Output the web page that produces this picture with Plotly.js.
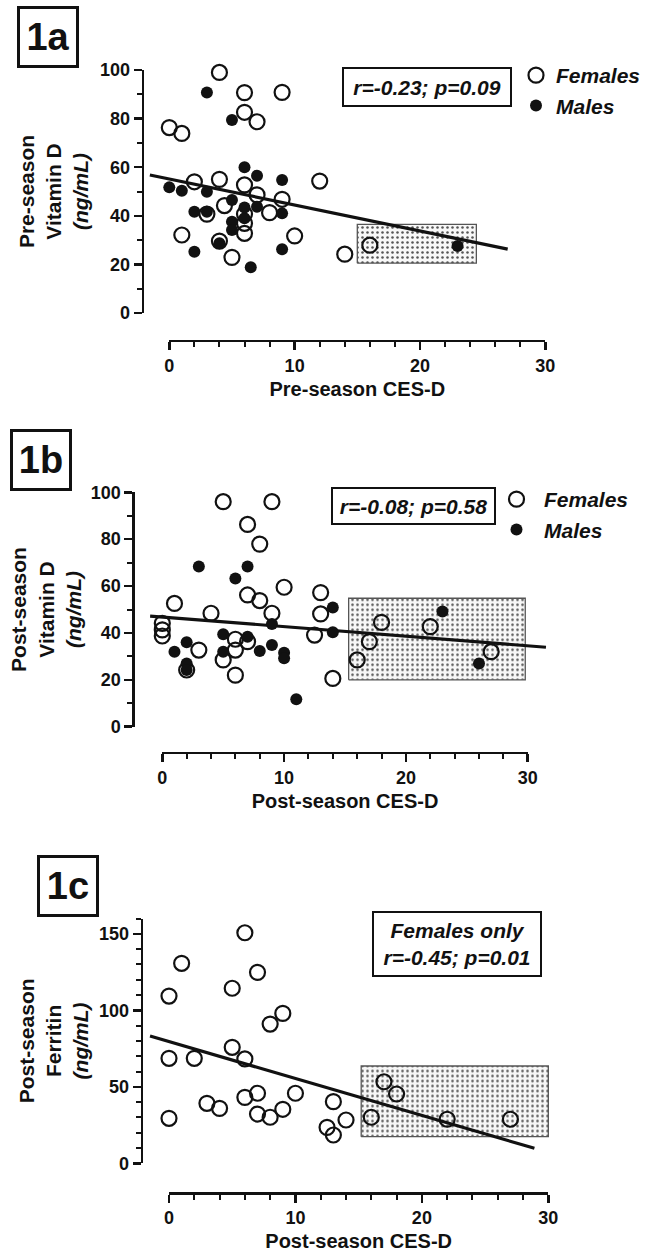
<!DOCTYPE html>
<html><head><meta charset="utf-8">
<script src="https://cdn.plot.ly/plotly-3.0.1.min.js"></script>
<style>html,body{margin:0;padding:0;background:#fff}#chart{width:661px;height:1255px}</style>
</head><body><div id="chart"></div>
<script>
// ---------- Panel 1a data ----------
const femA_x = [4, 6, 9, 6, 7, 0, 1, 12, 2, 4, 6, 7, 9, 4.4, 8, 3, 6, 6, 6, 1, 10, 4, 5, 14, 16];
const femA_y = [99.0, 90.7, 90.8, 82.6, 78.7, 76.3, 73.9, 54.3, 54.0, 55.0, 52.7, 48.6, 46.8, 44.2, 41.3, 40.7, 40.7, 36.9, 32.8, 32.1, 31.7, 29.6, 22.9, 24.2, 27.9];
const maleA_x = [3, 5, 6, 7, 9, 0, 1, 3, 5, 7, 2, 3, 9, 5, 6, 5, 4, 2, 9, 6.5, 23, 6];
const maleA_y = [90.7, 79.4, 60.0, 56.5, 54.7, 51.7, 50.3, 49.9, 46.5, 43.7, 41.7, 41.7, 41.0, 37.6, 39.0, 34.2, 28.7, 25.2, 26.2, 18.8, 27.6, 43.4];
const fitA_x = [-1.55, 27];
const fitA_y = [56.8, 26.3];
const boxA_x = [15, 24.5];
const boxA_y = [20.5, 36.5];
const statA = 'r=-0.23; p=0.09';

// ---------- Panel 1b data ----------
const femB_x = [5, 9, 7, 8, 10, 1, 13, 7, 8, 4, 9, 13, 0, 0, 0, 12.5, 6, 7, 3, 6, 5, 2, 6, 14, 18, 17, 16, 22, 27];
const femB_y = [96, 96, 86.3, 77.9, 59.5, 52.6, 57.2, 56.2, 53.8, 48.4, 48.4, 48.1, 44.1, 41.3, 38.7, 39.1, 37.3, 36.3, 32.7, 32.7, 28.5, 24.2, 22.0, 20.6, 44.5, 36.3, 28.5, 42.7, 32.0];
const maleB_x = [3, 7, 6, 14, 23, 9, 14, 5, 7, 2, 9, 1, 5, 8, 10, 10, 2, 2, 26, 11];
const maleB_y = [68.3, 68.3, 63.2, 50.9, 49.1, 43.8, 40.3, 39.4, 38.4, 36.0, 34.9, 32.0, 32.0, 32.3, 31.6, 29.2, 27.0, 24.2, 27.0, 11.7];
const fitB_x = [-1.0, 31.5];
const fitB_y = [47.2, 33.9];
const boxB_x = [15.3, 29.8];
const boxB_y = [20, 54.8];
const statB = 'r=-0.08; p=0.58';

// ---------- Panel 1c data ----------
const femC_x = [6, 1, 7, 5, 0, 9, 8, 5, 0, 2, 6, 0, 3, 4, 6, 7, 7, 8, 9, 10, 13, 12.5, 13, 14, 16, 17, 18, 22, 27];
const femC_y = [150.7, 130.7, 124.8, 114.4, 109.3, 98.0, 91.0, 75.8, 68.6, 68.6, 68.2, 29.4, 39.2, 35.9, 43.1, 45.8, 32.2, 30.1, 35.3, 45.8, 40.3, 23.5, 18.5, 28.3, 30.1, 53.3, 45.3, 28.8, 28.8];
const fitC_x = [-1.5, 28.9];
const fitC_y = [83.2, 9.8];
const boxC_x = [15.2, 30];
const boxC_y = [17.4, 63.6];
const statC = 'Females only<br>r=-0.45; p=0.01';

const panelLabels = ['1a', '1b', '1c'];
const xTitles = ['Pre-season CES-D', 'Post-season CES-D', 'Post-season CES-D'];
const yTitles = ['Pre-season<br>Vitamin D<br><i>(ng/mL)</i>', 'Post-season<br>Vitamin D<br><i>(ng/mL)</i>', 'Post-season<br>Ferritin<br><i>(ng/mL)</i>'];
const legendNames = ['Females', 'Males'];

// ---------- layout geometry (pixels) ----------
const W = 661, H = 1255;
const FONT = 'Liberation Sans, Arial, sans-serif';
const INK = '#111';
function px2x(p) { return p / W; }
function px2y(p) { return 1 - p / H; }

const geo = [
  {x0: 169.3, bx: 12.533, y0: 313,    by: 2.43,  ymax: 100, xLine: 340.7,  yLine: 142.7, ydt: 20, ymin: 10, ystand: 4,
   stat: [426.5, 87, 160, 30], lab: [47.8, 36.7], leg: [516, 55], itemw: 30},
  {x0: 162.3, bx: 12.18,  y0: 726.7,  by: 2.344, ymax: 100, xLine: 752.7,  yLine: 133.3, ydt: 20, ymin: 10, ystand: 2,
   stat: [413.3, 505.8, 155, 28], lab: [40.8, 460], leg: [489, 479], itemw: 45},
  {x0: 169,   bx: 12.644, y0: 1163.3, by: 1.53,  ymax: 160, xLine: 1193.3, yLine: 141.7, ydt: 50, ymin: 10, ystand: 3,
   stat: [457.2, 943.7, 160, 56], lab: [68.2, 886.3], leg: null}
];

const series = [
  {fem: [femA_x, femA_y], male: [maleA_x, maleA_y], fit: [fitA_x, fitA_y], box: [boxA_x, boxA_y], stat: statA, legend: 'legend'},
  {fem: [femB_x, femB_y], male: [maleB_x, maleB_y], fit: [fitB_x, fitB_y], box: [boxB_x, boxB_y], stat: statB, legend: 'legend2'},
  {fem: [femC_x, femC_y], male: null, fit: [fitC_x, fitC_y], box: [boxC_x, boxC_y], stat: statC, legend: null}
];

const data = [];
const layout = {
  width: W, height: H,
  margin: {l: 0, r: 0, t: 0, b: 0},
  paper_bgcolor: '#fff', plot_bgcolor: 'rgba(0,0,0,0)',
  font: {family: FONT, color: INK},
  annotations: [], showlegend: true
};

series.forEach((s, i) => {
  const g = geo[i];
  const dn = 2 * i + 1, vn = 2 * i + 2;
  const dx = dn === 1 ? 'x' : 'x' + dn, dy = dn === 1 ? 'y' : 'y' + dn;
  const vx = 'x' + vn, vy = 'y' + vn;
  const dxa = dn === 1 ? 'xaxis' : 'xaxis' + dn, dya = dn === 1 ? 'yaxis' : 'yaxis' + dn;

  // hidden data subplot, wider than the drawn axes so fit lines are not clipped
  const L = 100, R = 600, T = g.y0 - g.ymax * g.by - 30, B = g.xLine;
  layout[dxa] = {domain: [px2x(L), px2x(R)], range: [(L - g.x0) / g.bx, (R - g.x0) / g.bx], visible: false, anchor: dy, fixedrange: true};
  layout[dya] = {domain: [px2y(B), px2y(T)], range: [(g.y0 - B) / g.by, (g.y0 - T) / g.by], visible: false, anchor: dx, fixedrange: true};

  // visible, detached axes
  const tickCommon = {ticks: 'outside', tickwidth: 2.5, ticklen: 8, tickcolor: INK,
    showline: true, linewidth: 2.5, linecolor: INK, showgrid: false, zeroline: false, fixedrange: true};
  layout['xaxis' + vn] = Object.assign({}, tickCommon, {
    domain: [px2x(g.x0), px2x(g.x0 + 30 * g.bx)], range: [0, 30], anchor: 'free', position: px2y(g.xLine),
    tick0: 0, dtick: 10, minor: {ticks: 'outside', ticklen: 5, tickwidth: 2, tickcolor: INK, dtick: 2},
    tickfont: {family: FONT, size: 18, weight: 'bold', color: INK},
    title: {text: xTitles[i], font: {family: FONT, size: 20, weight: 'bold', color: INK}, standoff: 6}
  });
  layout['yaxis' + vn] = Object.assign({}, tickCommon, {
    domain: [px2y(g.y0), px2y(g.y0 - g.ymax * g.by)], range: [0, g.ymax], anchor: 'free', position: px2x(g.yLine),
    side: 'left', tick0: 0, dtick: g.ydt,
    minor: {ticks: 'outside', ticklen: 5, tickwidth: 2, tickcolor: INK, dtick: g.ymin},
    tickfont: {family: FONT, size: 18, weight: 'bold', color: INK},
    title: {text: yTitles[i], font: {family: FONT, size: 21, weight: 'bold', color: INK}, standoff: g.ystand}
  });
  data.push({type: 'scatter', x: [], y: [], xaxis: vx, yaxis: vy, showlegend: false, hoverinfo: 'skip'});

  // dotted shaded region
  const bx = s.box[0], by = s.box[1];
  data.push({type: 'scatter', mode: 'lines', xaxis: dx, yaxis: dy, showlegend: false, hoverinfo: 'skip',
    x: [bx[0], bx[1], bx[1], bx[0], bx[0]], y: [by[0], by[0], by[1], by[1], by[0]],
    fill: 'toself', fillcolor: '#f6f6f6',
    fillpattern: {shape: '.', size: 5, solidity: 0.2, fgcolor: '#555', bgcolor: '#f7f7f7'},
    line: {color: '#555', width: 1.3}});

  // regression line
  data.push({type: 'scatter', mode: 'lines', xaxis: dx, yaxis: dy, showlegend: false, hoverinfo: 'skip',
    x: s.fit[0], y: s.fit[1], line: {color: INK, width: 3.2}});

  // females
  data.push({type: 'scatter', mode: 'markers', xaxis: dx, yaxis: dy, name: legendNames[0],
    legend: s.legend || 'legend', showlegend: !!s.legend,
    x: s.fem[0], y: s.fem[1], cliponaxis: false,
    marker: {symbol: 'circle-open', size: 15, color: INK, line: {width: 2.2, color: INK}}});
  // males
  if (s.male) {
    data.push({type: 'scatter', mode: 'markers', xaxis: dx, yaxis: dy, name: legendNames[1],
      legend: s.legend, showlegend: true,
      x: s.male[0], y: s.male[1], cliponaxis: false,
      marker: {symbol: 'circle', size: 12, color: INK}});
  }

  // statistics box
  layout.annotations.push({xref: 'paper', yref: 'paper', x: px2x(g.stat[0]), y: px2y(g.stat[1]),
    xanchor: 'center', yanchor: 'middle', showarrow: false, text: s.stat, align: 'center',
    width: g.stat[2], height: g.stat[3],
    font: {family: FONT, size: 21, weight: 'bold', style: 'italic', color: INK},
    bordercolor: INK, borderwidth: 2, borderpad: 3, bgcolor: 'rgba(255,255,255,0)'});
  // panel label
  layout.annotations.push({xref: 'paper', yref: 'paper', x: px2x(g.lab[0]), y: px2y(g.lab[1]),
    xanchor: 'center', yanchor: 'middle', showarrow: false, text: panelLabels[i],
    width: 50, height: 50, font: {family: FONT, size: 38, weight: 'bold', color: INK},
    bordercolor: INK, borderwidth: 3, borderpad: 3});
  // legend
  if (s.legend) {
    layout[s.legend] = {x: px2x(g.leg[0]), y: px2y(g.leg[1]), xanchor: 'left', yanchor: 'top',
      bgcolor: 'rgba(0,0,0,0)', borderwidth: 0, itemwidth: g.itemw, tracegroupgap: 0,
      font: {family: FONT, size: 21, weight: 'bold', style: 'italic', color: INK}};
  }
});

Plotly.newPlot('chart', data, layout, {staticPlot: true, displayModeBar: false});
</script></body></html>
